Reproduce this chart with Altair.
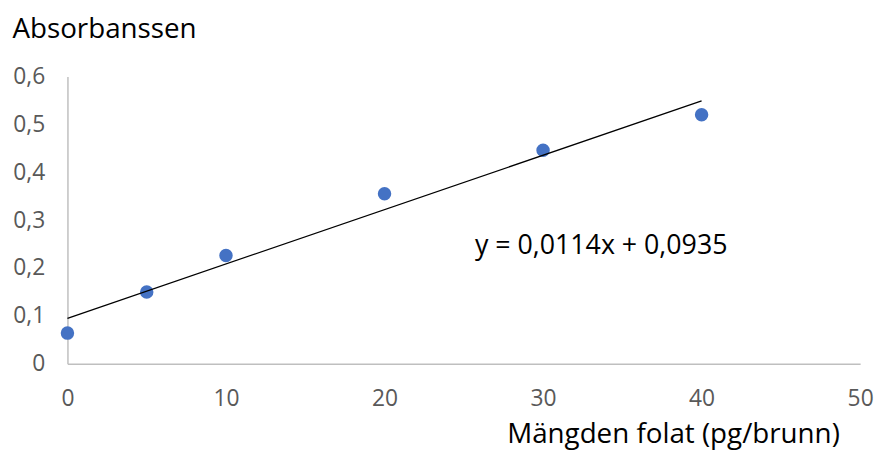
import altair as alt
import pandas as pd

# Data
folat = [0, 5, 10, 20, 30, 40]
absorbans = [0.064, 0.150, 0.226, 0.355, 0.446, 0.520]
equation_text = ["y = 0,0114x + 0,0935"]
equation_x = [25.7]
equation_y = [0.23]

df = pd.DataFrame({"x": folat, "y": absorbans})
eq_df = pd.DataFrame({"label": equation_text, "x": equation_x, "y": equation_y})

FONT = "Open Sans"

x_scale = alt.Scale(domain=[0, 50], nice=False, zero=True)
y_scale = alt.Scale(domain=[0, 0.6], nice=False, zero=True)

x_axis = alt.Axis(
    title="Mängden folat (pg/brunn)",
    values=[0, 10, 20, 30, 40, 50],
    grid=False,
    ticks=False,
    domainColor="#bfbfbf",
    domainWidth=1.5,
    labelColor="#595959",
    labelFont=FONT,
    labelFontSize=23,
    labelPadding=24,
    labelFlush=False,
    titleFont=FONT,
    titleFontSize=28,
    titleFontWeight="normal",
    titleColor="#000000",
    titleAnchor="end",
    titleAlign="right",
    titleBaseline="alphabetic",
    titleX=779,
    titleY=79,
)

y_axis = alt.Axis(
    title="Absorbanssen",
    values=[0, 0.1, 0.2, 0.3, 0.4, 0.5, 0.6],
    labelExpr="datum.value == 0 ? '0' : replace(format(datum.value, '.1f'), '.', ',')",
    grid=False,
    ticks=False,
    domainColor="#bfbfbf",
    domainWidth=1.5,
    labelColor="#595959",
    labelFont=FONT,
    labelFontSize=23,
    labelPadding=23,
    labelFlush=False,
    titleFont=FONT,
    titleFontSize=28,
    titleFontWeight="normal",
    titleColor="#000000",
    titleAngle=0,
    titleAlign="left",
    titleBaseline="alphabetic",
    titleX=-56,
    titleY=-39,
)

base = alt.Chart(df)

points = base.mark_circle(size=185, color="#4472C4", opacity=1).encode(
    x=alt.X("x:Q", scale=x_scale, axis=x_axis),
    y=alt.Y("y:Q", scale=y_scale, axis=y_axis),
)

trend = base.transform_regression("x", "y", extent=[0, 40]).mark_line(
    color="#000000", strokeWidth=1.3
).encode(
    x=alt.X("x:Q", scale=x_scale),
    y=alt.Y("y:Q", scale=y_scale),
)

eq = alt.Chart(eq_df).mark_text(
    align="left", baseline="alphabetic", font=FONT, fontSize=27, color="#000000"
).encode(
    x=alt.X("x:Q", scale=x_scale),
    y=alt.Y("y:Q", scale=y_scale),
    text="label:N",
)

chart = alt.layer(points, trend, eq).properties(
    width=800,
    height=290,
    autosize=alt.AutoSizeParams(type="none"),
    padding={"left": 60, "top": 67, "right": 15, "bottom": 87},
    background="#ffffff",
).configure_view(stroke=None)

chart.save("out.html", embed_options={"renderer": "svg", "actions": False})
